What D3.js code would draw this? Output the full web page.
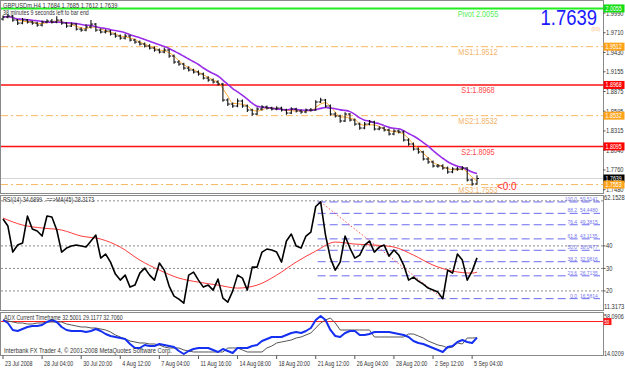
<!DOCTYPE html>
<html>
<head>
<meta charset="utf-8">
<script src="https://cdnjs.cloudflare.com/ajax/libs/d3/7.8.5/d3.min.js"></script>
<style>
body { margin: 0; background: #fff; }
svg { display: block; }
text { font-family: "Liberation Sans", Arial, sans-serif; }
</style>
</head>
<body>
<div id="chart"></div>
<script>
// GBPUSDm H4, one entry per two H4 bars
const closes = [1.9933,1.9947,1.9890,1.9847,1.9890,1.9862,1.9847,1.9819,1.9862,1.9876,
    1.9862,1.9890,1.9847,1.9805,1.9833,1.9762,1.9748,1.9791,1.9833,1.9748,
    1.9720,1.9734,1.9691,1.9663,1.9634,1.9663,1.9606,1.9578,1.9549,1.9521,
    1.9492,1.9464,1.9436,1.9464,1.9379,1.9294,1.9265,1.9208,1.9180,1.9152,
    1.9123,1.9066,1.9038,1.9010,1.8981,1.8754,1.8697,1.8669,1.8740,1.8669,
    1.8612,1.8555,1.8626,1.8655,1.8640,1.8626,1.8640,1.8612,1.8569,1.8626,
    1.8598,1.8584,1.8612,1.8612,1.8726,1.8754,1.8669,1.8555,1.8527,1.8456,
    1.8555,1.8470,1.8413,1.8356,1.8413,1.8442,1.8342,1.8356,1.8328,1.8271,
    1.8314,1.8300,1.8186,1.8129,1.8058,1.8016,1.7916,1.7874,1.7817,1.7817,
    1.7788,1.7732,1.7774,1.7774,1.7788,1.7618,1.7561,1.7639];
const highs = [1.9955,1.9975,1.9962,1.9905,1.9920,1.9905,1.9880,1.9865,1.9885,1.9900,
    1.9905,1.9945,1.9905,1.9860,1.9855,1.9845,1.9785,1.9830,1.9890,1.9850,
    1.9770,1.9760,1.9750,1.9715,1.9685,1.9695,1.9680,1.9625,1.9600,1.9570,
    1.9545,1.9515,1.9485,1.9500,1.9480,1.9400,1.9320,1.9285,1.9235,1.9200,
    1.9175,1.9145,1.9090,1.9060,1.9035,1.9000,1.8780,1.8720,1.8775,1.8760,
    1.8690,1.8630,1.8650,1.8680,1.8675,1.8660,1.8665,1.8660,1.8630,1.8650,
    1.8645,1.8620,1.8635,1.8640,1.8750,1.8785,1.8770,1.8690,1.8580,1.8545,
    1.8580,1.8570,1.8490,1.8435,1.8440,1.8470,1.8460,1.8380,1.8375,1.8350,
    1.8340,1.8335,1.8320,1.8210,1.8150,1.8080,1.8035,1.7940,1.7895,1.7845,
    1.7840,1.7810,1.7800,1.7805,1.7815,1.7800,1.7640,1.7685];
const lows = [1.9885,1.9915,1.9865,1.9820,1.9830,1.9840,1.9825,1.9795,1.9800,1.9845,
    1.9840,1.9845,1.9825,1.9780,1.9790,1.9740,1.9725,1.9730,1.9770,1.9725,
    1.9700,1.9700,1.9670,1.9640,1.9610,1.9615,1.9585,1.9555,1.9530,1.9500,
    1.9470,1.9440,1.9415,1.9420,1.9355,1.9270,1.9240,1.9185,1.9160,1.9130,
    1.9100,1.9045,1.9015,1.8990,1.8960,1.8730,1.8670,1.8645,1.8650,1.8645,
    1.8585,1.8530,1.8540,1.8605,1.8620,1.8605,1.8610,1.8590,1.8545,1.8555,
    1.8575,1.8560,1.8565,1.8590,1.8600,1.8710,1.8645,1.8530,1.8505,1.8430,
    1.8440,1.8450,1.8390,1.8330,1.8340,1.8395,1.8320,1.8325,1.8305,1.8250,
    1.8255,1.8280,1.8165,1.8105,1.8035,1.7990,1.7895,1.7850,1.7795,1.7790,
    1.7765,1.7705,1.7715,1.7750,1.7755,1.7595,1.7535,1.7555];
const firstOpen = 1.9905;

const pivotNames = ["Pivot", "MS1", "S1", "MS2", "S2", "MS3"];
const pivotValues = [2.0055, 1.9512, 1.8968, 1.8532, 1.8095, 1.7553];
const lastPrice = 1.7639;
const priceTicks = [1.9990, 1.9710, 1.9430, 1.9155, 1.8875, 1.8595, 1.8315, 1.8040, 1.7760, 1.7480];

const rsi = [51.93,48.81,37.26,40.37,41.26,53.26,47.48,46.59,44.37,53.26,
    52.82,47.04,37.26,39.04,39.92,40.37,39.92,39.48,42.15,44.81,
    34.59,36.37,32.81,27.48,24.81,27.03,21.70,22.59,27.92,30.15,
    27.03,24.81,32.37,29.26,22.15,17.70,16.37,14.59,27.03,28.37,
    24.81,21.70,22.59,20.37,25.26,16.81,15.03,19.92,27.03,25.70,
    20.37,30.59,30.59,37.26,38.59,38.15,37.26,32.81,42.15,45.26,
    39.92,39.04,44.37,46.15,57.50,59.51,44.81,34.59,29.26,32.81,
    44.37,39.04,34.59,35.92,40.37,42.15,37.26,39.48,40.37,35.48,
    38.15,35.92,31.48,24.81,26.15,24.37,23.03,21.26,20.37,19.48,
    16.58,29.26,27.92,36.37,33.70,24.81,28.81,34.69];
const rsiMaIdx = [0,4,8,12,16,20,24,28,32,36,40,44,48,52,56,60,64,68,72,76,80,84,88,92,96,97];
const rsiMa = [52.37,49.26,47.93,47.04,44.37,43.04,39.48,33.70,29.26,25.70,23.92,22.59,21.26,
    22.59,27.03,32.81,37.70,41.70,40.81,40.37,39.48,35.92,31.48,28.81,27.92,28.32];
const rsiLevels = [60, 40, 30, 20];
const rsiTicks = [40, 30, 20];
const fibRatios = ["100.0", "88.2", "76.4", "61.8", "50.0", "38.2", "23.6", "0.0"];
const fibValues = [59.5141, 54.4480, 49.3815, 43.1135, 38.0477, 32.9816, 26.7135, 16.5814];
const fibHighIdx = 65, fibLowIdx = 90;

const adxBlue = [51.65,48.42,40.90,39.82,41.97,44.12,45.20,45.20,46.27,49.50,
    51.65,49.50,44.12,40.90,39.82,39.82,39.82,38.75,39.82,41.97,
    39.82,36.60,34.45,33.37,32.30,31.22,25.85,21.55,21.55,24.77,
    23.70,23.70,25.85,24.77,23.70,22.62,18.32,15.10,18.32,20.47,
    21.55,21.55,21.55,19.40,17.25,20.47,18.32,16.17,21.55,21.55,
    21.55,23.70,24.77,29.07,31.22,33.37,33.37,33.37,35.52,37.67,
    38.75,37.67,39.82,43.05,51.65,55.95,51.65,40.90,34.45,33.37,
    37.67,39.82,39.82,35.52,35.52,36.60,38.75,38.75,38.75,38.75,
    37.67,36.60,35.52,33.37,29.07,26.92,25.85,23.70,21.55,19.40,
    17.25,22.62,23.70,28.00,30.15,28.00,26.92,32.71];
const adxGray = [51.65,50.57,49.50,48.42,48.42,47.35,47.35,48.42,48.42,49.50,
    49.50,49.50,49.50,47.35,46.27,45.20,44.12,44.12,43.05,43.05,
    41.97,40.90,38.75,35.52,33.37,31.22,29.07,28.00,26.92,26.92,
    25.85,25.85,24.77,22.62,21.55,21.55,21.55,19.40,18.32,17.25,
    17.25,17.25,17.25,17.25,17.25,17.25,21.55,21.55,21.55,19.40,
    17.25,17.25,17.25,17.25,21.55,23.70,26.92,28.00,29.07,30.15,
    32.30,33.37,35.52,37.67,43.05,48.42,51.65,53.80,48.42,40.90,
    40.90,40.90,40.90,40.90,40.90,40.90,33.37,33.37,33.37,33.37,
    33.37,33.37,33.37,36.60,36.60,34.45,32.30,29.07,26.92,24.77,
    23.70,21.55,22.62,26.92,25.85,32.30,32.30,32.50];
const adxLevel = 50;

const dateLabels = ["23 Jul 2008","28 Jul 04:00","30 Jul 20:00","4 Aug 12:00","7 Aug 04:00",
    "11 Aug 16:00","14 Aug 08:00","18 Aug 20:00","21 Aug 12:00","26 Aug 04:00",
    "28 Aug 20:00","2 Sep 12:00","5 Sep 04:00"];
const dateIdx = [0,8,16,24,32,40,48,56,64,72,80,88,96];

const width = 625, height = 368, plotRight = 603;
const pane = { main: [0, 193], rsi: [196, 310.5], adx: [313, 355] };

const svg = d3.select("#chart").append("svg").attr("width", width).attr("height", height);

const x = d3.scaleLinear().domain([0, 97]).range([3, 477]);
const yP = d3.scaleLinear().domain([1.7433, 2.0175]).range([pane.main[1], pane.main[0]]);
const yR = d3.scaleLinear().domain([11.3173, 62.1528]).range([pane.rsi[1], pane.rsi[0]]);
const yA = d3.scaleLinear().domain([14.0209, 58.0906]).range([pane.adx[1], pane.adx[0] + 1]);

function label(g, px, py, s, o) {
    o = o || {};
    return g.append("text")
        .attr("transform", `translate(${px},${py}) scale(${o.sx || 0.82},1)`)
        .attr("font-size", o.size || 6.5)
        .attr("fill", o.color || "#222")
        .attr("text-anchor", o.anchor || "start")
        .attr("font-weight", o.weight || "normal")
        .text(s);
}

function sma(arr, n) {
    return arr.map((d, i) => d3.mean(arr.slice(Math.max(0, i - n + 1), i + 1)));
}

// clip paths for panes
const defs = svg.append("defs");
Object.keys(pane).forEach(k => {
    defs.append("clipPath").attr("id", "clip-" + k)
        .append("rect").attr("x", 1).attr("y", pane[k][0])
        .attr("width", plotRight - 1).attr("height", pane[k][1] - pane[k][0]);
});

// ---------- main pane ----------
const main = svg.append("g").attr("clip-path", "url(#clip-main)");

const pivotStyle = n => n === "Pivot" ? { c: "#22ee22", w: 2, dash: null, box: "#11dd11", t: "#55ee55" }
    : n.startsWith("MS") ? { c: "#f8b860", w: 1, dash: "7,3,2,3", box: "#ffa31a", t: "#f4b468" }
    : { c: "#ff1010", w: 1.5, dash: null, box: "#ff0000", t: "#ff4a4a" };

main.append("line")
    .attr("x1", 1).attr("x2", plotRight)
    .attr("y1", yP(lastPrice)).attr("y2", yP(lastPrice))
    .attr("stroke", "#d4d4d4").attr("stroke-width", 1);

pivotNames.forEach((n, i) => {
    const st = pivotStyle(n);
    main.append("line")
        .attr("x1", 1).attr("x2", plotRight)
        .attr("y1", yP(pivotValues[i])).attr("y2", yP(pivotValues[i]))
        .attr("stroke", st.c).attr("stroke-width", st.w)
        .attr("stroke-dasharray", st.dash);
    const txt = n === "Pivot" ? `Pivot ${pivotValues[i].toFixed(4)}` : `${n}:${pivotValues[i].toFixed(4)}`;
    label(main, 478, yP(pivotValues[i]) + 8.5, txt, { size: 8.5, sx: 0.86, color: st.t, anchor: "middle" });
});

const purple = sma(closes, 8), orange = sma(closes, 3);
const lineP = d3.line().x((d, i) => x(i)).y(d => yP(d)).curve(d3.curveMonotoneX);
main.append("path").datum(orange).attr("d", lineP)
    .attr("fill", "none").attr("stroke", "#ffa830").attr("stroke-width", 1);
main.append("path").datum(purple).attr("d", lineP)
    .attr("fill", "none").attr("stroke", "#9a2ee8").attr("stroke-width", 1.6);

const bars = main.append("g").attr("stroke", "#111").attr("stroke-width", 1.1);
closes.forEach((c, i) => {
    const o = i === 0 ? firstOpen : closes[i - 1];
    bars.append("line").attr("x1", x(i)).attr("x2", x(i)).attr("y1", yP(highs[i])).attr("y2", yP(lows[i]));
    bars.append("line").attr("x1", x(i) - 2).attr("x2", x(i)).attr("y1", yP(o)).attr("y2", yP(o));
    bars.append("line").attr("x1", x(i)).attr("x2", x(i) + 2).attr("y1", yP(c)).attr("y2", yP(c));
});

label(main, 497, 190, "<0:0", { size: 11, sx: 0.9, color: "#ff2a2a" });

label(svg, 3, 7.5, `GBPUSDm,H4  1.7684 1.7685 1.7612 ${lastPrice.toFixed(4)}`, { size: 7, color: "#333" });
label(svg, 3, 15, "38 minutes 9 seconds left to bar end", { size: 6.5, color: "#333" });
label(svg, 597, 25, lastPrice.toFixed(4), { size: 22, sx: 0.84, color: "#1a1aff", anchor: "end" });
label(svg, 600, 31, "(0:0)", { size: 5, color: "#f4b468", anchor: "end" });

// ---------- RSI pane ----------
const rp = svg.append("g").attr("clip-path", "url(#clip-rsi)");
rsiLevels.forEach(v => {
    rp.append("line").attr("x1", 1).attr("x2", plotRight)
        .attr("y1", yR(v)).attr("y2", yR(v))
        .attr("stroke", "#8c8c8c").attr("stroke-dasharray", "2,2");
});
fibValues.forEach((v, i) => {
    rp.append("line").attr("x1", x(fibHighIdx) - 3).attr("x2", 600)
        .attr("y1", yR(v)).attr("y2", yR(v))
        .attr("stroke", "#6b6bf0").attr("stroke-dasharray", "8,4");
    label(rp, 577, yR(v) - 1, fibRatios[i], { size: 6, color: "#7676f0", anchor: "end" });
    label(rp, 580, yR(v) - 1, v.toFixed(4), { size: 6, color: "#7676f0" });
});
rp.append("line")
    .attr("x1", x(fibHighIdx)).attr("y1", yR(fibValues[0]))
    .attr("x2", x(fibLowIdx)).attr("y2", yR(fibValues[fibValues.length - 1]))
    .attr("stroke", "#ff5555").attr("stroke-dasharray", "1.5,2");

rp.append("path").datum(rsiMaIdx.map((d, i) => [d, rsiMa[i]]))
    .attr("d", d3.line().x(d => x(d[0])).y(d => yR(d[1])).curve(d3.curveMonotoneX))
    .attr("fill", "none").attr("stroke", "#ff3b3b").attr("stroke-width", 1);
rp.append("path").datum(rsi)
    .attr("d", d3.line().x((d, i) => x(i)).y(d => yR(d)))
    .attr("fill", "none").attr("stroke", "#000").attr("stroke-width", 1.6)
    .attr("stroke-linejoin", "round");
label(rp, 3, 202, "RSI(14) 34.6899 . ==>MA(45) 28.3173", { size: 6.5, color: "#333" });

// ---------- ADX pane ----------
const ap = svg.append("g").attr("clip-path", "url(#clip-adx)");
ap.append("line").attr("x1", 1).attr("x2", plotRight)
    .attr("y1", yA(adxLevel)).attr("y2", yA(adxLevel))
    .attr("stroke", "#ff1a1a").attr("stroke-width", 1);
const lineA = d3.line().x((d, i) => x(i)).y(d => yA(d));
ap.append("path").datum(adxGray).attr("d", lineA)
    .attr("fill", "none").attr("stroke", "#555").attr("stroke-width", 1);
ap.append("path").datum(adxBlue).attr("d", lineA)
    .attr("fill", "none").attr("stroke", "#1530f0").attr("stroke-width", 2)
    .attr("stroke-linejoin", "round");
label(ap, 4, 319.5, "ADX Current Timeframe 32.5001 29.1177 32.7060", { size: 6.5, color: "#333" });
label(ap, 4, 353, "Interbank FX Trader 4, \u00a9 2001-2008 MetaQuotes Software Corp.", { size: 6.8, sx: 0.86, color: "#333" });

// ---------- frames ----------
const frame = svg.append("g").attr("stroke", "#8a8a8a").attr("stroke-width", 1).attr("fill", "none");
[[0.5, pane.main[1] + 0.5], [pane.rsi[0] - 0.5, pane.rsi[1]], [pane.adx[0] - 0.5, pane.adx[1] + 0.5]].forEach(r => {
    frame.append("rect").attr("x", 0.5).attr("y", r[0]).attr("width", plotRight).attr("height", r[1] - r[0]);
});

// ---------- right axes ----------
const ax = svg.append("g");
priceTicks.forEach(v => {
    ax.append("line").attr("x1", plotRight).attr("x2", plotRight + 2.5)
        .attr("y1", yP(v)).attr("y2", yP(v)).attr("stroke", "#555");
    label(ax, 606, yP(v) + 2.5, v.toFixed(4), { size: 7, color: "#333" });
});
const boxes = pivotNames.map((n, i) => ({ v: pivotValues[i], c: pivotStyle(n).box }));
boxes.splice(5, 0, { v: lastPrice, c: "#000" });
boxes.forEach(b => {
    ax.append("rect").attr("x", plotRight + 0.5).attr("y", yP(b.v) - 4)
        .attr("width", 21).attr("height", 8).attr("fill", b.c);
    label(ax, 605.5, yP(b.v) + 2.3, b.v.toFixed(4), { size: 6.5, color: "#fff" });
});

label(ax, 604, 200, "62.1528", { size: 7, color: "#333" });
rsiTicks.forEach(v => {
    ax.append("line").attr("x1", plotRight).attr("x2", plotRight + 2.5)
        .attr("y1", yR(v)).attr("y2", yR(v)).attr("stroke", "#555");
    label(ax, 606, yR(v) + 2.5, String(v), { size: 7, color: "#333" });
});
label(ax, 604, 309, "11.3173", { size: 7, color: "#333" });
label(ax, 604, 319, "58.0906", { size: 7, sx: 0.78, color: "#333" });
ax.append("rect").attr("x", plotRight + 0.5).attr("y", yA(adxLevel) - 3.5)
    .attr("width", 8).attr("height", 7).attr("fill", "#ff1a1a");
label(ax, 604.5, yA(adxLevel) + 2, String(adxLevel), { size: 5, color: "#fff" });
label(ax, 604, 356, "14.0209", { size: 7, sx: 0.78, color: "#333" });

// ---------- date axis ----------
dateIdx.forEach((d, i) => {
    svg.append("line").attr("x1", x(d)).attr("x2", x(d))
        .attr("y1", pane.adx[1] + 0.5).attr("y2", pane.adx[1] + 4).attr("stroke", "#555");
    label(svg, x(d) + 2, 365.5, dateLabels[i], { size: 6.5, color: "#333" });
});
</script>
</body>
</html>
